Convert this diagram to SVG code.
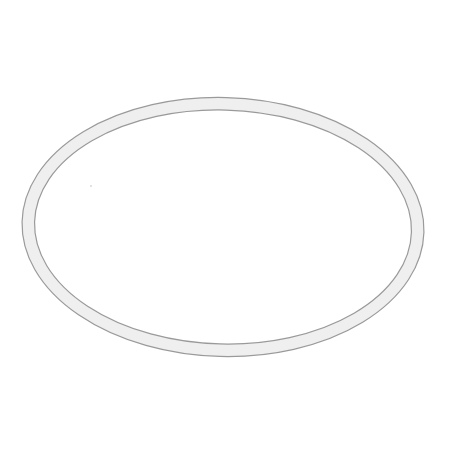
<svg xmlns="http://www.w3.org/2000/svg" width="450" height="450" viewBox="0 0 450 450">
<style>
.ring{stroke:#9a9a9a;stroke-width:1.2}
</style>
<rect width="450" height="450" fill="#ffffff"/>
<g id="ring" transform="rotate(1.5 223 227)">
<ellipse class="ring" cx="223" cy="227" rx="201" ry="129.5" fill="#efefef"/>
<ellipse class="ring" cx="223" cy="227" rx="188.5" ry="117" fill="#ffffff"/>
</g>
<circle cx="91" cy="186" r="0.7" fill="#b0b0b0"/>
</svg>
